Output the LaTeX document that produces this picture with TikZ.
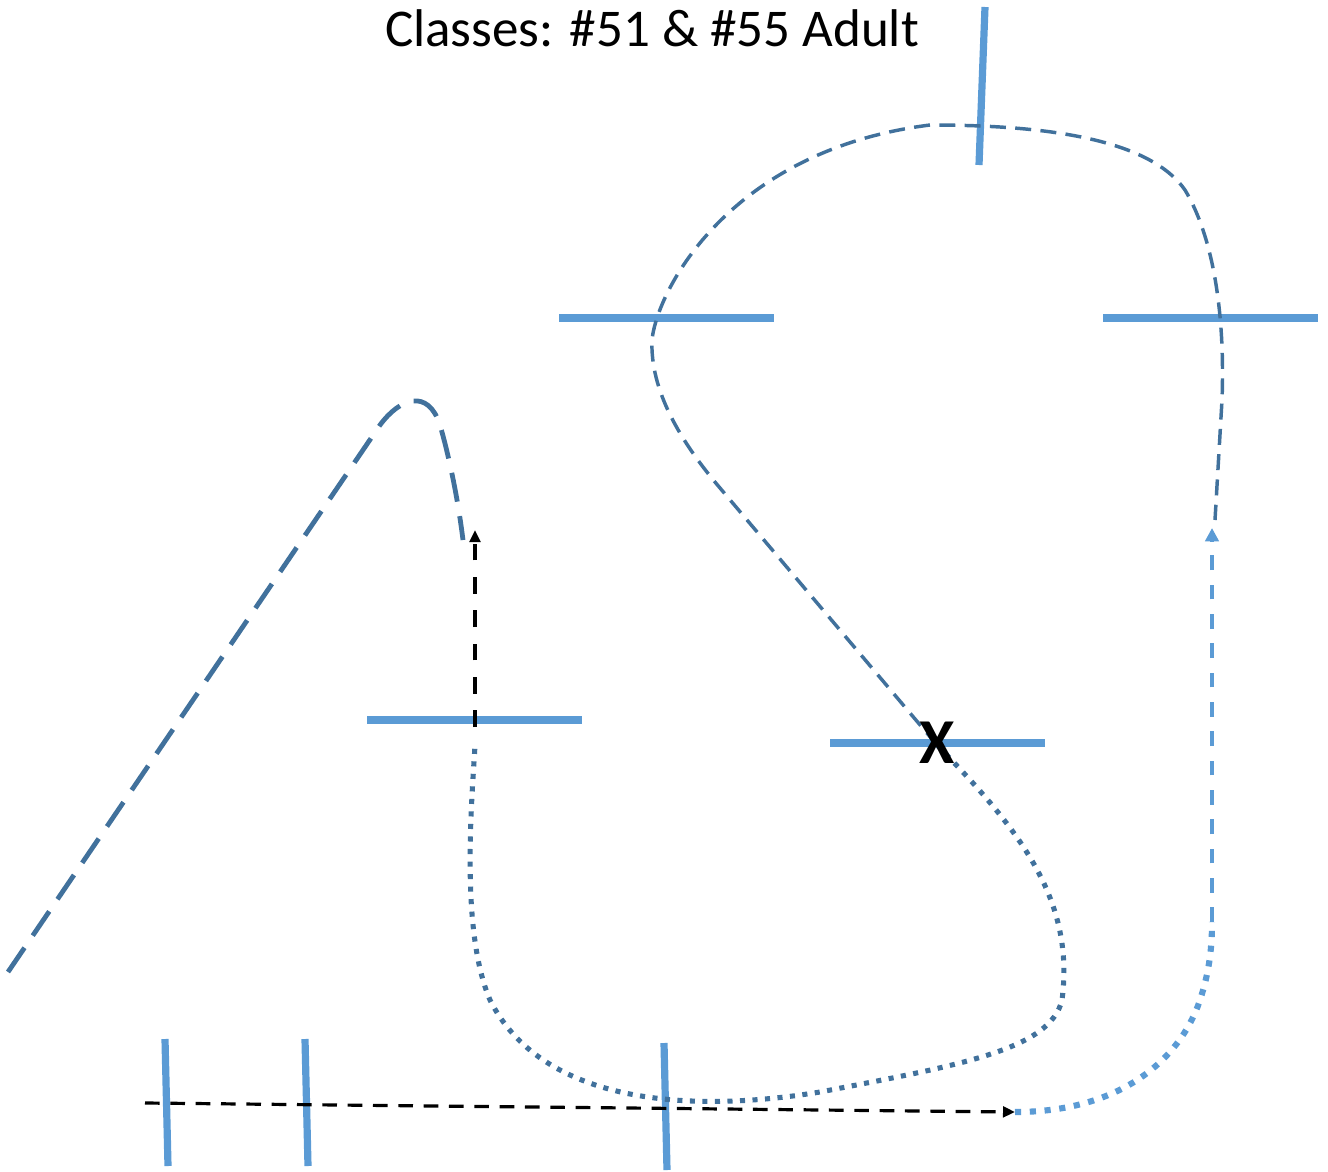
\documentclass[tikz,border=0pt]{standalone}
\usepackage{fontspec}
\setmainfont{Carlito}
\usetikzlibrary{arrows.meta}
\definecolor{barblue}{HTML}{5B9BD5}
\definecolor{darkblue}{HTML}{41719C}
\tikzset{
  bar/.style={draw=barblue, line width=5.4pt},
  longdash/.style={draw=darkblue, line width=3.6pt, dash pattern=on 22pt off 11pt},
  loopdash/.style={draw=darkblue, line width=2.6pt, dash pattern=on 12pt off 7pt},
  darkdots/.style={draw=darkblue, line width=3.8pt, dash pattern=on 3.8pt off 5.6pt},
  lightdots/.style={draw=barblue, line width=4.6pt, dash pattern=on 4.6pt off 6.5pt},
  blackarrow/.style={draw=black, line width=2.4pt, dash pattern=on 11pt off 8pt, -{Triangle[length=9pt,width=8pt]}},
  vblackarrow/.style={draw=black, line width=2.4pt, dash pattern=on 12.5pt off 12.5pt, -{Triangle[length=9pt,width=8pt]}},
  lightarrow/.style={draw=barblue, line width=2.6pt, dash pattern=on 11pt off 11pt, -{Triangle[length=10pt,width=10pt]}},
}
\begin{document}
\begin{tikzpicture}[x=0.75pt,y=-0.75pt]
\useasboundingbox (0,0) rectangle (1328,1171);
% title
\node[anchor=base, inner sep=0pt, font=\fontsize{39.8}{48}\selectfont] (title) at (652,46) {Classes: \#51 \& \#55 Adult};
% named points
\coordinate (xpt) at (937,745);
\coordinate (vbase) at (475,727);
\coordinate (vtip) at (475,530);
\coordinate (hbase) at (145,1103);
\coordinate (htip) at (1015,1112);
\coordinate (lbase) at (1212,922);
\coordinate (ltip) at (1212,528);
% bars
\draw[bar] (985,7) -- (979,165);
\draw[bar] (559,318) -- (774,318);
\draw[bar] (1103,318) -- (1318,318);
\draw[bar] (367,720) -- (582,720);
\draw[bar] (830,743) -- (1045,743);
\draw[bar] (165,1039) -- (168,1166);
\draw[bar] (305,1039) -- (308,1166);
\draw[bar] (664,1043) -- (667,1170);
% left dashed curve
\draw[longdash] (8,972) -- (380,425) .. controls (400,398) and (428,388) .. (440,425) .. controls (450,460) and (458,500) .. (463,540);
% big dashed loop
\draw[loopdash] (xpt) -- (720,488) .. controls (680,441) and (650,390) .. (652,340) .. controls (657,290) and (730,150) .. (930,125) .. controls (1050,125) and (1150,140) .. (1185,190) .. controls (1215,240) and (1225,320) .. (1222,400) -- (1215,520);
% dotted loop
\draw[darkdots] (xpt) .. controls (1020,830) and (1075,900) .. (1062,1000) .. controls (1050,1050) and (960,1065) .. (820,1092) .. controls (680,1115) and (540,1100) .. (490,1000) .. controls (460,930) and (472,800) .. (475,745);
% light dotted
\draw[lightdots] (htip) .. controls (1120,1112) and (1180,1060) .. (1200,1000) .. controls (1210,970) and (1212,945) .. (lbase);
% arrows
\draw[vblackarrow] (vbase) -- (vtip);
\draw[blackarrow] (hbase) -- (htip);
\draw[lightarrow] (lbase) -- (ltip);
% X
\node[inner sep=0pt, font=\fontsize{48}{52}\selectfont\bfseries] (xmark) at (937,743) {X};
\end{tikzpicture}
\end{document}
